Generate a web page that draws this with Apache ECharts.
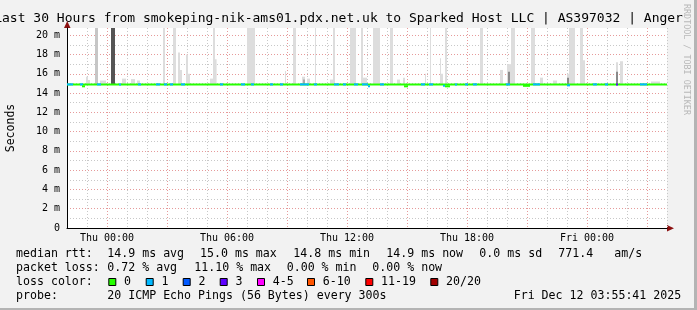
<!DOCTYPE html>
<html><head><meta charset="utf-8">
<script src="https://cdn.jsdelivr.net/npm/echarts@6/dist/echarts.min.js"></script>
<style>html,body{margin:0;padding:0;background:#f2f2f2}#c{width:697px;height:310px}</style>
</head><body><div id="c"></div>
<script>
// ---- data (x = hours since Wed 22:00, y = milliseconds) ----
const titleText = 'Last 30 Hours from smokeping-nik-ams01.pdx.net.uk to Sparked Host LLC | AS397032 | Anger';
const xLabelHours = [2, 8, 14, 20, 26];
const xLabelText = ['Thu 00:00', 'Thu 06:00', 'Thu 12:00', 'Thu 18:00', 'Fri 00:00'];
const yLabelUnit = ' m';
const medianBase = 14.9;
// smoke spikes: [fromHour, toHour, topMs, shade]
const smokeSpikes = [
  [0.95,1.05,15.7,0],[1.05,1.15,15.35,0],[1.4,1.55,25,1],[1.65,1.95,15.3,0],[2.2,2.4,25,4],
  [2.75,2.95,15.5,0],[3.2,3.4,15.45,0],[3.5,3.65,15.3,0],[4.8,4.9,25,0],[5.3,5.45,25,0],
  [5.55,5.65,18.2,0],[5.65,5.75,16.4,0],[5.95,6.05,18.0,0],[6.05,6.15,16.0,0],[7.15,7.3,15.5,0],
  [7.3,7.4,25,0],[7.4,7.48,17.5,0],[9.0,9.4,25,0],[10.9,10.95,16.3,0],[11.3,11.45,25,0],
  [11.75,11.9,15.7,0],[11.8,11.9,15.4,2],[12.0,12.15,15.5,0],[12.4,12.45,25,0],[13.15,13.3,15.4,0],
  [13.3,13.4,25,0],[14.15,14.45,25,0],[14.7,14.8,25,0],[14.8,15.0,15.6,0],[15.3,15.65,25,0],
  [16.15,16.3,25,0],[16.5,16.65,15.4,0],[16.8,16.9,15.6,0],[17.9,17.95,16.0,0],[18.15,18.2,25,0],
  [18.65,18.7,17.6,0],[18.7,18.8,16.0,0],[18.9,19.0,25,0],[20.65,20.8,25,0],[21.65,21.8,16.4,0],
  [22.0,22.2,17.0,0],[22.05,22.15,16.2,3],[22.2,22.4,25,0],[23.2,23.4,25,0],[23.65,23.8,15.6,0],
  [24.3,24.5,15.3,0],[25.0,25.1,16.0,0],[25.0,25.1,15.6,3],[25.1,25.4,25,0],[25.65,25.8,25,0],
  [25.8,25.9,17.4,0],[27.45,27.55,17.2,0],[27.45,27.55,16.2,3],[27.65,27.8,17.3,0],[29.2,29.65,15.2,0]
];
const smokeShades = ['#dddddd', '#c6c6c6', '#aaaaaa', '#8a8a8a', '#555555'];
// median runs: [fromHour, toHour, medianMs, lossColorIndex]
const medianRuns = [
  [0,30,14.9,0],
  [0,0.3,14.9,1],[0.65,0.8,14.9,1],[0.75,0.9,14.7,0],[1.5,1.7,14.9,1],[2.6,2.7,14.9,1],
  [3.55,3.7,14.9,1],[4.45,4.65,14.9,1],[4.85,5.0,14.9,1],[5.15,5.3,14.9,1],[5.7,5.9,14.9,1],
  [7.65,7.8,14.9,1],[8.7,8.9,14.9,1],[9.2,9.35,14.9,1],[10.15,10.3,14.9,1],[10.65,10.8,14.9,1],
  [11.65,12.1,14.9,1],[12.35,12.5,14.9,1],[13.35,13.6,14.9,1],[13.8,13.95,14.9,1],[14.35,14.55,14.9,1],
  [14.75,15.05,14.9,1],[15.05,15.15,14.7,1],[15.65,15.85,14.9,1],[16.85,17.05,14.7,0],[17.7,17.9,14.9,1],
  [18.1,18.3,14.9,1],[18.8,18.9,14.75,1],[18.9,19.15,14.7,0],[19.4,19.5,14.9,1],[19.9,20.05,14.9,1],
  [20.3,20.5,14.9,1],[21.95,22.15,14.9,1],[22.8,23.15,14.75,0],[23.3,23.65,14.9,1],[25.0,25.15,14.8,1],
  [26.3,26.5,14.9,1],[26.9,27.05,14.9,1],[27.45,27.55,14.9,3],[28.65,29.0,14.9,1]
];
const lossLabels = ['0', '1', '2', '3', '4-5', '6-10', '11-19', '20/20'];
const lossColors = ['#26ff00', '#00b8ff', '#0059ff', '#5e00ff', '#ff00ff', '#ff5500', '#ff0000', '#a10000'];
const rttStats = ['14.9 ms avg', '15.0 ms max', '14.8 ms min', '14.9 ms now', '0.0 ms sd', '771.4', 'am/s'];
const lossStats = ['0.72 % avg', '11.10 % max', '0.00 % min', '0.00 % now'];
const probeText = '20 ICMP Echo Pings (56 Bytes) every 300s';
const stampText = 'Fri Dec 12 03:55:41 2025';

// ---- layout ----
const MONO = '"DejaVu Sans Mono", monospace';
const chart = echarts.init(document.getElementById('c'), null, {renderer: 'canvas'});
const yMax = 20.75;

function rectItem(params, api, x0, x1, y0, y1, fill) {
  const a = api.coord([x0, y0]);
  const b = api.coord([x1, y1]);
  const shape = echarts.graphic.clipRectByRect({
    x: a[0], y: Math.min(a[1], b[1]), width: b[0] - a[0], height: Math.abs(a[1] - b[1])
  }, {x: params.coordSys.x, y: params.coordSys.y, width: params.coordSys.width, height: params.coordSys.height});
  if (!shape) return null;
  return {type: 'rect', shape: shape, style: {fill: fill}};
}

const legendX = [108.3, 145.7, 182.7, 219.7, 257, 307, 365.3, 430.3];
const rttX = [107.3, 200, 293.3, 386.3, 479.3, 558.3, 614.3];
const lossX = [107.3, 194.3, 286.7, 372.3];
const txt = (t, x, y, extra) => Object.assign({type: 'text', x: x, y: y, silent: true,
  style: Object.assign({text: t, fontFamily: MONO, fontSize: 11.6, fill: '#000', verticalAlign: 'middle'}, extra || {})});

const graphics = [
  {type: 'rect', shape: {x: 694, y: 0, width: 3, height: 310}, style: {fill: '#b4b4b4'}, silent: true},
  {type: 'rect', shape: {x: 0, y: 308, width: 697, height: 2}, style: {fill: '#b4b4b4'}, silent: true},
  txt(titleText, -5.8, 19, {fontSize: 13}),
  {type: 'text', x: 686, y: 4, rotation: -Math.PI / 2, silent: true,
    style: {text: 'RRDTOOL / TOBI OETIKER', fontFamily: MONO, fontSize: 8.4, fill: '#b8b8b8', verticalAlign: 'middle'}},
  txt('median rtt:', 16, 254), txt('packet loss:', 16, 268), txt('loss color:', 16, 282), txt('probe:', 16, 296),
  txt(probeText, 107.3, 296), txt(stampText, 513.7, 296)
];
rttStats.forEach((s, i) => graphics.push(txt(s, rttX[i], 254)));
lossStats.forEach((s, i) => graphics.push(txt(s, lossX[i], 268)));
lossLabels.forEach((s, i) => {
  graphics.push({type: 'rect', silent: true, shape: {x: legendX[i] + 0.5, y: 278.5, width: 7, height: 7},
    style: {fill: lossColors[i], stroke: '#000', lineWidth: 1}});
  graphics.push(txt(s, legendX[i] + 15.7, 282));
});

const option = {
  animation: false,
  backgroundColor: '#f2f2f2',
  grid: {left: 67, top: 28, width: 600, height: 200, show: true, backgroundColor: '#ffffff', borderWidth: 0,
    containLabel: false, outerBoundsMode: 'none'},
  xAxis: {
    type: 'value', min: 0, max: 30, interval: 1,
    axisLine: {show: true, onZero: false, lineStyle: {color: '#000', width: 1}},
    axisTick: {show: false},
    axisLabel: {interval: 0, fontFamily: MONO, fontSize: 10, color: '#000', margin: 5, hideOverlap: false, showMinLabel: true, showMaxLabel: true,
      formatter: v => { const k = xLabelHours.indexOf(Math.round(v)); return (k >= 0 && Math.abs(v - Math.round(v)) < 1e-6) ? xLabelText[k] : ''; }},
    splitLine: {show: true, lineStyle: {color: ['#c8c8c8', '#c8c8c8', '#e69a9a'], type: [1, 2], width: 1}}
  },
  yAxis: {
    type: 'value', min: 0, max: yMax, interval: 1,
    name: 'Seconds', nameLocation: 'middle', nameRotate: 90, nameGap: 50,
    nameTextStyle: {fontFamily: MONO, fontSize: 11.5, color: '#000'},
    axisLine: {show: true, lineStyle: {color: '#000', width: 1}},
    axisTick: {show: false},
    axisLabel: {fontFamily: MONO, fontSize: 10, color: '#000', margin: 7, showMaxLabel: true,
      formatter: v => (Number.isInteger(v) && v % 2 === 0) ? (v === 0 ? '0' : v + yLabelUnit) : ''},
    splitLine: {show: true, showMaxLine: false, lineStyle: {color: ['#e69a9a', '#c8c8c8'], type: [1, 2], width: 1}}
  },
  series: [
    {type: 'custom', name: 'smoke', data: smokeSpikes, clip: true, z: 2,
      renderItem: (params, api) => rectItem(params, api, api.value(0), api.value(1), medianBase, api.value(2), smokeShades[api.value(3)])},
    {type: 'custom', name: 'median', data: medianRuns, clip: true, z: 3,
      renderItem: (params, api) => {
        const a = api.coord([api.value(0), api.value(2)]);
        const b = api.coord([api.value(1), api.value(2)]);
        return {type: 'rect', shape: {x: a[0], y: a[1] - 1, width: b[0] - a[0], height: 2}, style: {fill: lossColors[api.value(3)]}};
      }}
  ],
  graphic: graphics
};
chart.setOption(option);

// axis arrows (dark red), positioned from the axis scale
const yTopPx = chart.convertToPixel({gridIndex: 0}, [0, yMax]);
const xEndPx = chart.convertToPixel({gridIndex: 0}, [30, 0]);
chart.setOption({graphic: graphics.concat([
  {type: 'polygon', silent: true, shape: {points: [[yTopPx[0] - 3, yTopPx[1]], [yTopPx[0] + 3.5, yTopPx[1]], [yTopPx[0] + 0.25, yTopPx[1] - 7]]}, style: {fill: '#8b1010'}},
  {type: 'polygon', silent: true, shape: {points: [[xEndPx[0], xEndPx[1] - 3], [xEndPx[0], xEndPx[1] + 3.5], [xEndPx[0] + 7, xEndPx[1] + 0.25]]}, style: {fill: '#8b1010'}}
])});
</script></body></html>
